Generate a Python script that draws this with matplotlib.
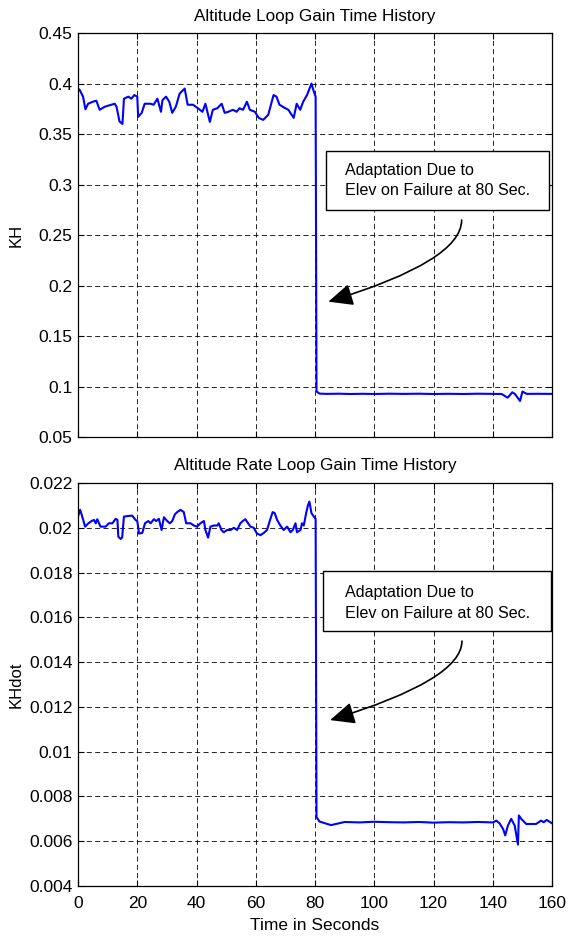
import numpy as np
import matplotlib
matplotlib.use('Agg')
import matplotlib.pyplot as plt
from matplotlib.patches import Rectangle

plt.rcParams['font.family'] = ['Liberation Sans', 'DejaVu Sans']

# ---- data ----
# altitude loop gain KH
kh_t = [0, 0.6, 1.7, 2.5, 3.4, 5, 6.2, 7.3, 9, 11.2, 12.4, 13, 14, 15, 15.5, 17, 18, 19,
        20, 20.3, 21.5, 22.5, 24.5, 25.5, 26.8, 28, 28.5, 29.7, 30.8, 31.8, 33, 34.3, 36,
        37, 38.8, 40.5, 42, 43, 44.5, 45.5, 47, 48.5, 49.5, 50.7, 52.3, 53.5, 54.5, 55.7,
        57, 58, 59.7, 61, 62.5, 64.2, 66, 67, 68, 70, 71, 72.8, 73.8, 75, 76, 77.3, 78.8,
        79.5, 80.2, 80.5, 81.5, 84, 88, 92, 96, 100, 105, 110, 115, 120, 125, 130, 135,
        140, 143, 145, 146.6, 147.5, 149.2, 150, 151.5, 155, 160]
kh_v = [0.395, 0.3935, 0.387, 0.3745, 0.380, 0.382, 0.383, 0.374, 0.377, 0.379, 0.380,
        0.377, 0.3625, 0.360, 0.385, 0.387, 0.385, 0.3886, 0.387, 0.367, 0.371, 0.380,
        0.380, 0.379, 0.385, 0.372, 0.3836, 0.387, 0.382, 0.371, 0.377, 0.390, 0.395,
        0.379, 0.379, 0.3755, 0.372, 0.380, 0.362, 0.374, 0.3755, 0.380, 0.371, 0.372,
        0.374, 0.372, 0.3755, 0.374, 0.382, 0.374, 0.372, 0.366, 0.364, 0.369, 0.3886,
        0.387, 0.379, 0.3755, 0.374, 0.366, 0.380, 0.374, 0.382, 0.3886, 0.400, 0.393,
        0.387, 0.0952, 0.093, 0.0927, 0.0929, 0.0926, 0.0928, 0.0926, 0.0929, 0.0927,
        0.0929, 0.0926, 0.0928, 0.0926, 0.0929, 0.0927, 0.0926, 0.0889, 0.0943, 0.0925,
        0.0857, 0.095, 0.0927, 0.0928, 0.0927]

# altitude rate loop gain KHdot
khd_t = [0, 0.7, 1.2, 2.4, 3.5, 4.6, 5.4, 6, 6.5, 7.6, 9.3, 10.4, 11.6, 12.7, 13.3, 13.6,
         14.4, 14.9, 15.5, 17.2, 18.3, 19.4, 20, 20.6, 21.7, 22.6, 23.7, 24.5, 25.6, 26.4,
         27.3, 28.2, 29, 30.1, 31, 31.8, 32.7, 33.5, 34.6, 35.7, 36.5, 38, 39.1, 40.2,
         41.3, 42.5, 43, 43.9, 44.7, 45.8, 47, 47.5, 48.4, 49.2, 50.3, 51.5, 52.6, 53.7,
         54.8, 55.6, 56.5, 57.4, 58.2, 59.3, 60.4, 61.6, 62.7, 63.8, 64.7, 65.7, 66.4,
         67.2, 68.3, 69.4, 70.6, 71.7, 72.5, 73.4, 73.9, 75.1, 75.6, 76.2, 77, 77.6, 78.1,
         78.8, 79.6, 80.2, 80.5, 81.5, 85.4, 90, 95, 100, 105, 110, 115, 120, 125, 130,
         135, 140, 141.2, 142.3, 143.5, 144.2, 145.1, 146.2, 147.4, 148.5, 148.8, 149.6,
         151.3, 154.6, 156.3, 157.2, 158.2, 160]
khd_v = [0.0205, 0.0208, 0.0206, 0.02005, 0.0202, 0.0203, 0.02035, 0.0202, 0.02038,
         0.02005, 0.02005, 0.0202, 0.0202, 0.0204, 0.02035, 0.0196, 0.0195, 0.01957,
         0.0205, 0.02053, 0.02054, 0.02035, 0.0203, 0.01974, 0.01977, 0.0202, 0.0203,
         0.0202, 0.02038, 0.0203, 0.0204, 0.0199, 0.02047, 0.0203, 0.0202, 0.0203,
         0.0206, 0.0207, 0.0208, 0.0207, 0.0202, 0.0202, 0.0201, 0.02005, 0.0202, 0.0203,
         0.0199, 0.01956, 0.02005, 0.0201, 0.0201, 0.0202, 0.0199, 0.0198, 0.0199,
         0.0199, 0.0200, 0.0199, 0.0202, 0.0203, 0.02038, 0.0202, 0.02005, 0.0200,
         0.01974, 0.01967, 0.01977, 0.0199, 0.0203, 0.0207, 0.02065, 0.02035, 0.0201,
         0.0199, 0.02005, 0.0198, 0.0199, 0.0202, 0.0198, 0.0199, 0.0202, 0.0201,
         0.02065, 0.0210, 0.02117, 0.02065, 0.0205, 0.0204, 0.00708, 0.00688, 0.00672,
         0.00686, 0.00684, 0.00687, 0.00685, 0.00684, 0.00686, 0.00683, 0.00685, 0.00684,
         0.00686, 0.00684, 0.00692, 0.0068, 0.00654, 0.00626, 0.0067, 0.0070, 0.0067,
         0.00585, 0.00715, 0.0070, 0.00677, 0.00677, 0.00692, 0.00685, 0.00695, 0.0068]

x_ticks = [0, 20, 40, 60, 80, 100, 120, 140, 160]
kh_ticks = [0.05, 0.1, 0.15, 0.2, 0.25, 0.3, 0.35, 0.4, 0.45]
kh_labels = ['0.05', '0.1', '0.15', '0.2', '0.25', '0.3', '0.35', '0.4', '0.45']
khd_ticks = [0.004, 0.006, 0.008, 0.01, 0.012, 0.014, 0.016, 0.018, 0.02, 0.022]
khd_labels = ['0.004', '0.006', '0.008', '0.01', '0.012', '0.014', '0.016', '0.018', '0.02', '0.022']

note = ['Adaptation Due to', 'Elev on Failure at 80 Sec.']

fig = plt.figure(figsize=(5.72, 9.36), dpi=100)
ax1 = fig.add_axes([0.1364, 0.5331, 0.8287, 0.4316])
ax2 = fig.add_axes([0.1364, 0.0534, 0.8287, 0.4306])

grid_kw = dict(color='k', linestyle=(0, (6, 4)), linewidth=0.6)

# top: KH
ax1.plot(kh_t, kh_v, color='#0000ff', lw=1.5)
ax1.set_xlim(0, 160)
ax1.set_ylim(0.05, 0.45)
ax1.set_xticks(x_ticks)
ax1.set_xticklabels([])
ax1.set_yticks(kh_ticks)
ax1.set_yticklabels(kh_labels)
ax1.grid(True, **grid_kw)
ax1.set_ylabel('KH', fontsize=12)
ax1.set_title('Altitude Loop Gain Time History', fontsize=12.3, pad=9)
ax1.add_patch(Rectangle((83.7, 0.2748), 75.3, 0.0587, fc='white', ec='k', lw=1.0, zorder=5))
ax1.text(90.1, 0.3135, note[0], fontsize=11.6, va='center', ha='left', zorder=6)
ax1.text(90.1, 0.2937, note[1], fontsize=11.6, va='center', ha='left', zorder=6)
ax1.annotate('', xy=(84.5, 0.184), xytext=(129.5, 0.2648),
             arrowprops=dict(arrowstyle='-|>,head_length=1.0,head_width=0.45',
                             connectionstyle='angle3,angleA=90,angleB=17',
                             color='k', lw=1.2, shrinkA=0, shrinkB=0, mutation_scale=15),
             zorder=6)

# bottom: KHdot
ax2.plot(khd_t, khd_v, color='#0000ff', lw=1.5)
ax2.set_xlim(0, 160)
ax2.set_ylim(0.004, 0.022)
ax2.set_xticks(x_ticks)
ax2.set_yticks(khd_ticks)
ax2.set_yticklabels(khd_labels)
ax2.grid(True, **grid_kw)
ax2.set_ylabel('KHdot', fontsize=12)
ax2.set_title('Altitude Rate Loop Gain Time History', fontsize=12.3, pad=9)
ax2.add_patch(Rectangle((82.7, 0.01539), 77.0, 0.00268, fc='white', ec='k', lw=1.0, zorder=5))
ax2.text(90.1, 0.01713, note[0], fontsize=11.6, va='center', ha='left', zorder=6)
ax2.text(90.1, 0.01619, note[1], fontsize=11.6, va='center', ha='left', zorder=6)
ax2.annotate('', xy=(85.1, 0.01141), xytext=(129.6, 0.01494),
             arrowprops=dict(arrowstyle='-|>,head_length=1.0,head_width=0.45',
                             connectionstyle='angle3,angleA=90,angleB=17',
                             color='k', lw=1.2, shrinkA=0, shrinkB=0, mutation_scale=15),
             zorder=6)

for ax in (ax1, ax2):
    ax.tick_params(direction='in', length=4, top=True, right=True, labelsize=12.5, width=0.8)
    ax.tick_params(axis='y', pad=4)
    ax.tick_params(axis='x', pad=7)
    ax.yaxis.set_label_coords(-0.114, 0.5)
    for s in ax.spines.values():
        s.set_linewidth(0.9)

ax2.set_xlabel('Time in Seconds', fontsize=12.5, labelpad=5)

fig.savefig('out.png', dpi=100)
